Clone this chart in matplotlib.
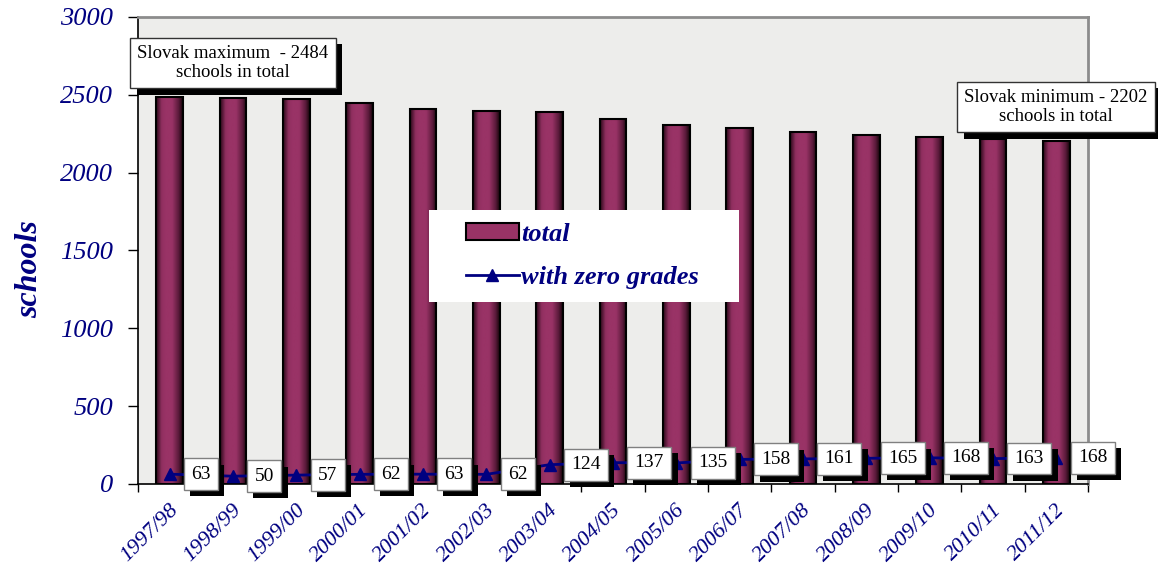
import matplotlib
matplotlib.use('Agg')
import matplotlib.pyplot as plt
import matplotlib.patheffects as pe
import numpy as np
from matplotlib.colors import LinearSegmentedColormap
from matplotlib.patches import Rectangle, Patch
from matplotlib.lines import Line2D
from matplotlib.transforms import ScaledTranslation

# school years
years = ['1997/98', '1998/99', '1999/00', '2000/01', '2001/02', '2002/03', '2003/04',
         '2004/05', '2005/06', '2006/07', '2007/08', '2008/09', '2009/10', '2010/11', '2011/12']
# schools in total
total = [2484, 2481, 2470, 2448, 2408, 2398, 2389, 2343, 2307, 2287, 2260, 2242, 2227, 2215, 2202]
# schools with zero grades
zero_grades = [63, 50, 57, 62, 63, 62, 124, 137, 135, 158, 161, 165, 168, 163, 168]
y_ticks = [0, 500, 1000, 1500, 2000, 2500, 3000]

navy = '#000080'
plt.rcParams['font.family'] = ['Liberation Serif', 'DejaVu Serif']

fig = plt.figure(figsize=(11.58, 5.65), dpi=100)
ax = fig.add_axes([0.1192, 0.1434, 0.8204, 0.8266])
ax.set_facecolor('#ededeb')

x = np.arange(len(years)) + 0.5

# black drop shadow for the white boxes
shadow = [pe.SimplePatchShadow(offset=(4.5, -4.5), shadow_rgbFace='black', alpha=1), pe.Normal()]

# bars with a dark-edged gradient
cmap = LinearSegmentedColormap.from_list('bar', [(0, '#2a0818'), (0.2, '#8f2f5f'), (0.35, '#993366'),
                                                 (0.6, '#993366'), (0.85, '#5a1a3a'), (1, '#140409')])
grad = np.linspace(0, 1, 64).reshape(1, -1)
bars = ax.bar(x, total, width=0.42, facecolor='none', edgecolor='black', linewidth=1.5, zorder=3)
for b in bars:
    ax.imshow(grad, cmap=cmap, aspect='auto', zorder=2.5,
              extent=[b.get_x(), b.get_x() + b.get_width(), 0, b.get_height()])

ax.plot(x, zero_grades, color=navy, lw=2, marker='^', ms=9, zorder=4)

# value boxes
for xi, v in zip(x, zero_grades):
    t = ax.annotate(str(v), (xi, v), xytext=(15.5, 0), textcoords='offset points',
                    ha='left', va='center', fontsize=14, color='black', zorder=6,
                    bbox=dict(boxstyle='square,pad=0.38', fc='white', ec='#808080', lw=1))
    t.get_bbox_patch().set_path_effects(shadow)

ax.set_xlim(0, 15)
ax.set_ylim(0, 3000)

# axes look
for s in ['top', 'right']:
    ax.spines[s].set_color('#8c8c8c')
    ax.spines[s].set_linewidth(2)
for s in ['left', 'bottom']:
    ax.spines[s].set_color('black')
    ax.spines[s].set_linewidth(1.2)

ax.set_yticks(y_ticks, [str(v) for v in y_ticks], fontstyle='italic', fontsize=19, color=navy)
ax.tick_params(axis='y', direction='out', length=7, width=1, pad=11)
ax.set_xticks(x, years, rotation=45, ha='right', fontstyle='italic', fontsize=16, color=navy)
ax.tick_params(axis='x', which='major', length=0, pad=12)
ax.set_xticks(np.arange(16), minor=True)
ax.tick_params(axis='x', which='minor', direction='out', length=6, width=1)
# nudge the slanted year labels to the right
for lab in ax.get_xticklabels():
    lab.set_transform(lab.get_transform() + ScaledTranslation(9 / 72, 0, fig.dpi_scale_trans))

fig.text(0.026, 0.524, 'schools', rotation=90, ha='center', va='center',
         fontsize=23, fontweight='bold', fontstyle='italic', color=navy)

# legend on a white panel
ax.add_patch(Rectangle((0.306, 0.39), 0.327, 0.197, transform=ax.transAxes,
                       fc='white', ec='none', zorder=7))
handles = [Patch(facecolor='#993366', edgecolor='black', linewidth=1.5),
           Line2D([], [], color=navy, lw=2, marker='^', ms=9)]
leg = ax.legend(handles, ['total', 'with zero grades'], loc='center', bbox_to_anchor=(0.468, 0.488),
                frameon=False, handlelength=2.0, handleheight=0.6, handletextpad=0.1,
                labelspacing=0.75, labelcolor=navy,
                prop=dict(family='Liberation Serif', size=19, weight='bold', style='italic'))
leg.set_zorder(8)

# callout boxes
notes = [('Slovak maximum  - 2484\nschools in total', 0.2012, 0.8885),
         ('Slovak minimum - 2202\nschools in total', 0.912, 0.8106)]
for txt, fx, fy in notes:
    t = fig.text(fx, fy, txt, ha='center', va='center', multialignment='center',
                 fontsize=13.5, color='black', zorder=10,
                 bbox=dict(boxstyle='square,pad=0.38', fc='white', ec='#333333', lw=1))
    t.get_bbox_patch().set_path_effects(shadow)

fig.savefig('out.png', dpi=100)
